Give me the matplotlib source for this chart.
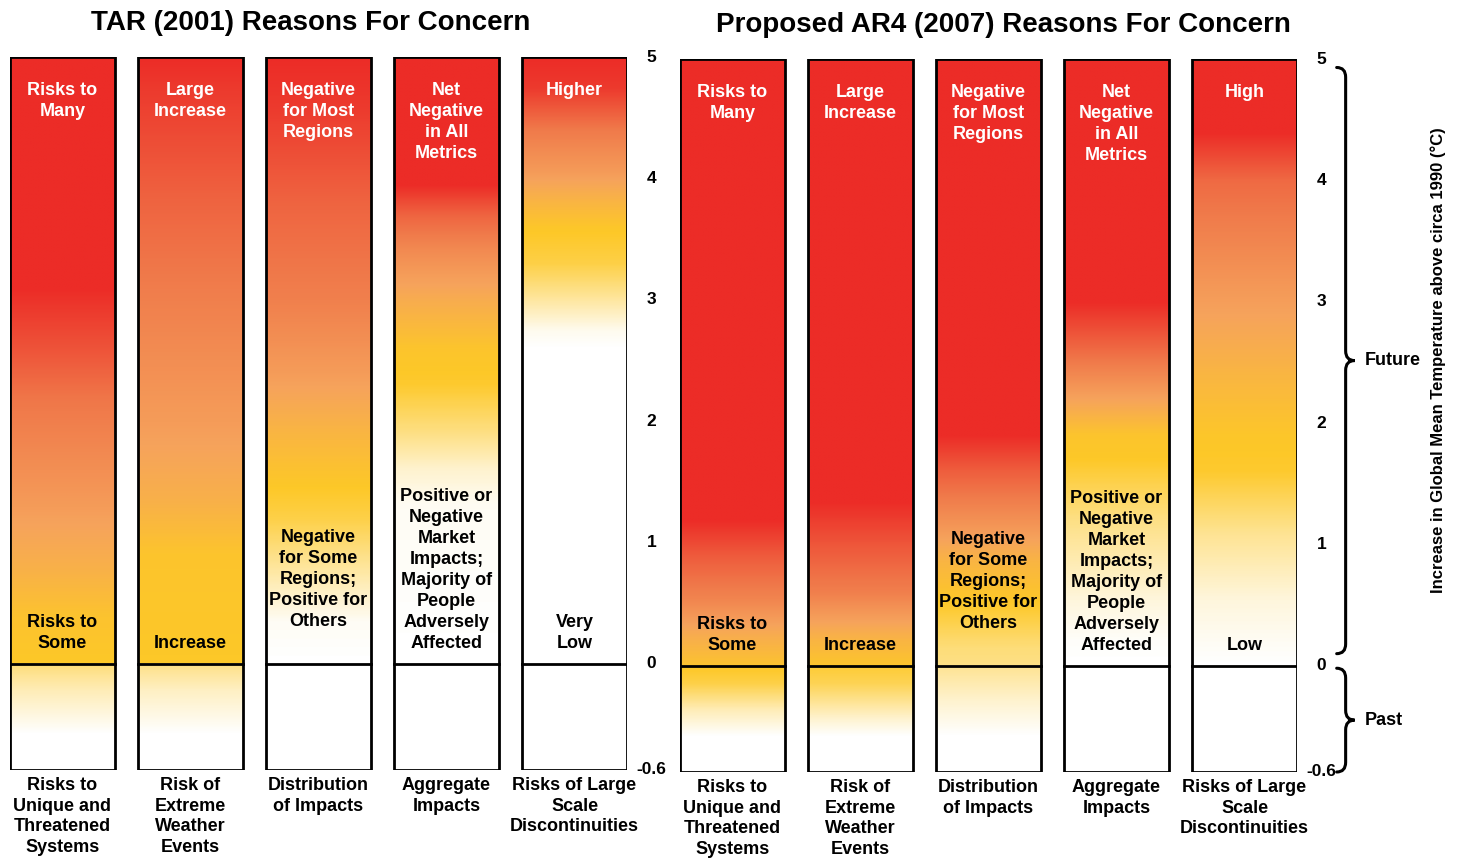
import numpy as np
import matplotlib.pyplot as plt
from matplotlib.colors import LinearSegmentedColormap
from matplotlib.patches import Rectangle, PathPatch
from matplotlib.path import Path

plt.rcParams['font.family'] = ['Liberation Sans', 'DejaVu Sans']

# ---- data ----
tar_title = 'TAR (2001) Reasons For Concern'
ar4_title = 'Proposed AR4 (2007) Reasons For Concern'

categories = ['Risks to\nUnique and\nThreatened\nSystems',
              'Risk of\nExtreme\nWeather\nEvents',
              'Distribution\nof Impacts',
              'Aggregate\nImpacts',
              'Risks of Large\nScale\nDiscontinuities']

tar_high = ['Risks to\nMany', 'Large\nIncrease', 'Negative\nfor Most\nRegions',
            'Net\nNegative\nin All\nMetrics', 'Higher']
tar_low = ['Risks to\nSome', 'Increase',
           'Negative\nfor Some\nRegions;\nPositive for\nOthers',
           'Positive or\nNegative\nMarket\nImpacts;\nMajority of\nPeople\nAdversely\nAffected',
           'Very\nLow']
ar4_high = ['Risks to\nMany', 'Large\nIncrease', 'Negative\nfor Most\nRegions',
            'Net\nNegative\nin All\nMetrics', 'High']
ar4_low = ['Risks to\nSome', 'Increase',
           'Negative\nfor Some\nRegions;\nPositive for\nOthers',
           'Positive or\nNegative\nMarket\nImpacts;\nMajority of\nPeople\nAdversely\nAffected',
           'Low']

# risk level (0 = white, 0.35 = yellow, 0.72 = orange, 1 = red) at given temperatures (deg C)
tar_future = [
    ([5, 3.1, 2.6, 2.2, 1.4, 0.8, 0.4, 0], [1, 1, 0.86, 0.74, 0.6, 0.48, 0.38, 0.35]),
    ([5, 4.75, 3.8, 3.0, 2.0, 1.35, 0.9, 0], [1, 0.95, 0.8, 0.7, 0.58, 0.48, 0.37, 0.35]),
    ([5, 4.6, 3.8, 3.0, 2.4, 1.9, 1.5, 1.2, 0.85, 0.35, 0],
     [1, 0.95, 0.8, 0.7, 0.58, 0.45, 0.36, 0.3, 0.18, 0.02, 0]),
    ([5, 3.95, 3.7, 3.4, 3.0, 2.6, 2.3, 1.9, 1.6, 1.3, 0],
     [1, 1, 0.8, 0.65, 0.5, 0.37, 0.34, 0.2, 0.08, 0.02, 0]),
    ([5, 4.75, 4.4, 4.05, 3.8, 3.6, 3.3, 3.05, 2.75, 2.6, 0],
     [1, 0.95, 0.72, 0.58, 0.45, 0.36, 0.3, 0.18, 0.03, 0, 0]),
]
tar_past = [
    ([0, -0.15, -0.4, -0.6], [0.22, 0.12, 0, 0]),
    ([0, -0.15, -0.4, -0.6], [0.2, 0.1, 0, 0]),
    ([0, -0.6], [0, 0]),
    ([0, -0.6], [0, 0]),
    ([0, -0.6], [0, 0]),
]
ar4_future = [
    ([5, 1.2, 0.9, 0.55, 0.25, 0], [1, 1, 0.83, 0.68, 0.5, 0.38]),
    ([5, 1.35, 1.0, 0.6, 0.2, 0], [1, 1, 0.85, 0.7, 0.45, 0.37]),
    ([5, 1.9, 1.6, 1.35, 1.1, 0.85, 0.55, 0.15, 0],
     [1, 1, 0.82, 0.7, 0.58, 0.45, 0.36, 0.22, 0.2]),
    ([5, 3.0, 2.5, 2.2, 1.9, 1.7, 1.2, 0.55, 0.2, 0],
     [1, 1, 0.72, 0.55, 0.37, 0.35, 0.2, 0.06, 0.01, 0]),
    ([5, 4.4, 4.0, 3.0, 2.4, 1.9, 1.6, 1.1, 0.55, 0.2, 0],
     [1, 1, 0.78, 0.57, 0.45, 0.36, 0.34, 0.18, 0.06, 0.02, 0]),
]
ar4_past = [
    ([0, -0.1, -0.25, -0.4, -0.6], [0.36, 0.3, 0.12, 0, 0]),
    ([0, -0.1, -0.3, -0.4, -0.6], [0.33, 0.28, 0.08, 0, 0]),
    ([0, -0.2, -0.4, -0.6], [0.18, 0.08, 0, 0]),
    ([0, -0.6], [0, 0]),
    ([0, -0.6], [0, 0]),
]

tick_vals = [5, 4, 3, 2, 1, 0, -0.6]
tick_text = ['5', '4', '3', '2', '1', '0', '-0.6']

# ---- style ----
cmap = LinearSegmentedColormap.from_list(
    'embers', [(0, '#FFFFFF'), (0.35, '#FDC828'), (0.55, '#F6A35C'),
               (0.72, '#F07B4B'), (1, '#EC2C27')])
W = 0.82
PAST_H = 0.875   # the past section is drawn stretched
FS = 13


def to_axis(t):
    t = np.asarray(t, dtype=float)
    return np.where(t >= 0, t, t / 0.6 * PAST_H)


def draw_column(ax, i, fut, past):
    yy = np.linspace(0, 5, 500)
    lev = np.interp(yy, fut[0][::-1], fut[1][::-1])
    ax.imshow(cmap(lev)[:, None, :], origin='lower', aspect='auto',
              extent=[i - W / 2, i + W / 2, 0, 5], interpolation='bilinear')
    yp = np.linspace(-0.6, 0, 200)
    lev = np.interp(yp, past[0][::-1], past[1][::-1])
    ax.imshow(cmap(lev)[:, None, :], origin='lower', aspect='auto',
              extent=[i - W / 2, i + W / 2, -PAST_H, 0], interpolation='bilinear')
    ax.add_patch(Rectangle((i - W / 2, -PAST_H), W, 5 + PAST_H, fill=False,
                           ec='black', lw=2.0, zorder=5))
    ax.plot([i - W / 2, i + W / 2], [0, 0], color='black', lw=2.0, zorder=5)


def draw_panel(ax, title, title_dx, future, past, high, low, low_pos):
    for i in range(5):
        draw_column(ax, i, future[i], past[i])
        ax.text(i, 4.79, high[i], ha='center', va='top', color='white',
                fontsize=FS, fontweight='bold', linespacing=1.3, zorder=6)
        ax.text(i, low_pos[i], low[i], ha='center', va='bottom', color='black',
                fontsize=FS, fontweight='bold', linespacing=1.3, zorder=6)
        ax.text(i, -PAST_H - 0.06, categories[i], ha='center', va='top',
                fontsize=FS, fontweight='bold', linespacing=1.27, clip_on=False)
    for v, s in zip(tick_vals, tick_text):
        ax.text(4 + W / 2 + 0.19, to_axis(v), s, ha='center', va='center',
                fontsize=12.5, fontweight='bold', clip_on=False)
    ax.text(2 + title_dx, 5.28, title, ha='center', va='center', fontsize=20,
            fontweight='bold', clip_on=False)
    ax.set_xlim(-W / 2, 4 + W / 2)
    ax.set_ylim(-PAST_H, 5)
    ax.axis('off')


def brace(ax, x, y0, y1, dx, dy):
    ym = (y0 + y1) / 2
    verts = [(x - dx, y1), (x, y1), (x, y1 - dy),
             (x, ym + dy),
             (x, ym), (x + dx, ym),
             (x, ym), (x, ym - dy),
             (x, y0 + dy),
             (x, y0), (x - dx, y0)]
    codes = [Path.MOVETO, Path.CURVE3, Path.CURVE3,
             Path.LINETO,
             Path.CURVE3, Path.CURVE3,
             Path.CURVE3, Path.CURVE3,
             Path.LINETO,
             Path.CURVE3, Path.CURVE3]
    ax.add_patch(PathPatch(Path(verts, codes), fill=False, lw=2.2,
                           ec='black', clip_on=False, capstyle='round'))
    return ym


fig = plt.figure(figsize=(14.64, 8.61), dpi=100)
ax1 = fig.add_axes([10 / 1464, 91 / 861, 617 / 1464, 713 / 861])
ax2 = fig.add_axes([680 / 1464, 89 / 861, 617 / 1464, 713 / 861])

draw_panel(ax1, tar_title, -0.06, tar_future, tar_past, tar_high, tar_low,
           [0.1, 0.1, 0.28, 0.1, 0.1])
draw_panel(ax2, ar4_title, 0.12, ar4_future, ar4_past, ar4_high, ar4_low,
           [0.1, 0.1, 0.28, 0.1, 0.1])

xb = 4 + W / 2 + 0.38
ym = brace(ax2, xb, 0.1, 4.93, 0.07, 0.08)
ax2.text(xb + 0.15, ym, 'Future', ha='left', va='center', fontsize=FS,
         fontweight='bold', clip_on=False)
ym = brace(ax2, xb, -PAST_H, -0.02, 0.07, 0.08)
ax2.text(xb + 0.15, ym, 'Past', ha='left', va='center', fontsize=FS,
         fontweight='bold', clip_on=False)
ax2.text(4 + W / 2 + 1.1, 2.52,
         'Increase in Global Mean Temperature above circa 1990 (°C)',
         rotation=90, ha='center', va='center', fontsize=12,
         fontweight='bold', clip_on=False)

fig.savefig('out.png', dpi=100)
